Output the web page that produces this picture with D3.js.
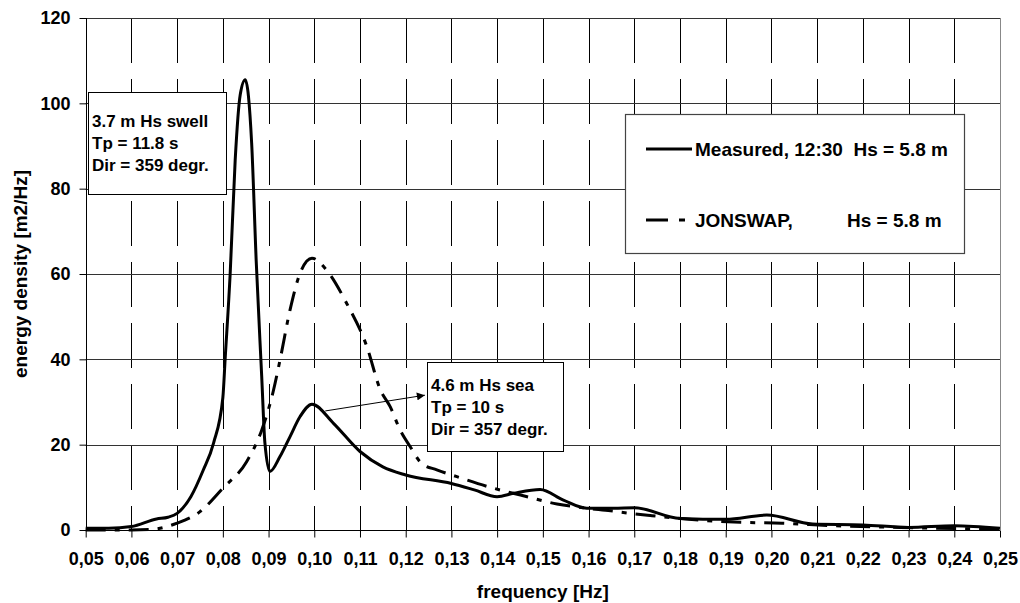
<!DOCTYPE html>
<html><head><meta charset="utf-8">
<script src="https://cdn.jsdelivr.net/npm/d3@7"></script>
<style>
body{margin:0;background:#fff}
svg{display:block}
text{font-family:"Liberation Sans",Arial,sans-serif;font-weight:bold;fill:#000}
</style>
</head><body><svg id="c" width="1020" height="603"></svg>
<script>
// ---- data ----
const measuredFreq = [0.050,0.055,0.060,0.0655,0.068,0.070,0.073,0.0757,0.078,0.080,0.0805,0.0816,0.0827,0.0838,0.0849,0.0863,0.0873,0.0885,0.0892,0.0903,0.0925,0.0947,0.0969,0.0995,0.1042,0.110,0.115,0.120,0.130,0.135,0.140,0.1436,0.1494,0.1545,0.1596,0.1655,0.170,0.180,0.190,0.199,0.209,0.220,0.230,0.240,0.250];
const measuredEnergy = [0.4,0.4,0.8,2.6,3.0,3.9,7.8,14.0,20.5,31.0,40.0,60.0,86.7,102.0,105.5,90.7,63.0,36.0,20.4,13.7,17.2,21.9,26.6,29.5,25.0,18.4,14.8,12.9,10.9,9.4,7.8,8.6,9.5,7.0,5.1,5.1,5.2,2.7,2.5,3.5,1.4,1.2,0.6,1.0,0.4];
const jonswapFreq = [0.050,0.060,0.064,0.070,0.075,0.080,0.0852,0.0885,0.091,0.0925,0.0947,0.0969,0.0995,0.1027,0.1071,0.1115,0.1144,0.1166,0.1188,0.1210,0.1235,0.1268,0.1312,0.1385,0.1451,0.1531,0.1597,0.1648,0.1676,0.1735,0.1844,0.1932,0.2023,0.2136,0.2282,0.250];
const jonswapEnergy = [0,0,0.1,1.6,4.3,9.8,16.0,23.4,32.4,39.8,51.6,60.2,63.7,60.9,53.1,43.0,33.0,28.9,23.4,19.5,15.6,14.1,12.5,10.0,8.2,6.1,5.1,4.5,4.1,3.4,2.3,1.8,1.6,1.0,0.6,0.2];
const xTicks = d3.range(5,26).map(i=>i/100);
const yTicks = [0,20,40,60,80,100,120];
const legendLabels = ["Measured, 12:30  Hs = 5.8 m","JONSWAP,","Hs = 5.8 m"];
const swellNote = ["3.7 m Hs swell","Tp = 11.8 s","Dir = 359 degr."];
const seaNote = ["4.6 m Hs sea","Tp = 10 s","Dir = 357 degr."];
const seaArrowFrom = [0.1024,27.9];
const seaArrowTo = [0.1242,31.6];

// ---- layout ----
const svg = d3.select("#c");
const L=85.7, R=1000, T=18, B=530;
const x = d3.scaleLinear().domain([0.05,0.25]).range([L,R]);
const y = d3.scaleLinear().domain([0,120]).range([B,T]);

svg.append("rect").attr("width",1020).attr("height",603).attr("fill","#fff");

// grid
const g = svg.append("g");
g.selectAll(".vg").data(xTicks.filter(d=>d>0.051 && d<0.249)).join("line")
  .attr("x1",d=>Math.round(x(d))+0.5).attr("x2",d=>Math.round(x(d))+0.5)
  .attr("y1",T).attr("y2",B)
  .attr("stroke","#000").attr("stroke-width",1).attr("stroke-dasharray","45,16");
g.selectAll(".hg").data(yTicks.filter(d=>d>0)).join("line")
  .attr("x1",L).attr("x2",R)
  .attr("y1",d=>Math.round(y(d))+0.5).attr("y2",d=>Math.round(y(d))+0.5)
  .attr("stroke","#333").attr("stroke-width",1);
// right border
g.append("line").attr("x1",Math.round(R)+0.5).attr("x2",Math.round(R)+0.5).attr("y1",T).attr("y2",B)
  .attr("stroke","#888").attr("stroke-width",1);

// axes
const xAxis = d3.axisBottom(x).tickValues(xTicks).tickSize(7).tickPadding(15)
  .tickFormat(d=>d3.format(".2f")(d).replace(".",","));
const ax = svg.append("g").attr("transform",`translate(0,${Math.round(B)+0.5})`).call(xAxis);
ax.select(".domain").attr("stroke","#000").attr("d",`M${L},0H${R}`);
ax.selectAll(".tick line").attr("stroke","#000");
ax.selectAll("text").attr("font-size",18).attr("font-family",null);

const yAxis = d3.axisLeft(y).tickValues(yTicks).tickSize(7).tickPadding(9);
const ay = svg.append("g").attr("transform",`translate(${Math.round(L)+0.5},0)`).call(yAxis);
ay.select(".domain").attr("stroke","#000").attr("d",`M0,${T}V${B}`);
ay.selectAll(".tick line").attr("stroke","#000");
ay.selectAll("text").attr("font-size",18).attr("font-family",null);

// axis titles
svg.append("text").attr("x",(L+R)/2).attr("y",598).attr("text-anchor","middle")
  .attr("font-size",19).text("frequency [Hz]");
svg.append("text").attr("transform",`translate(27,${(T+B)/2}) rotate(-90)`)
  .attr("text-anchor","middle").attr("font-size",19).text("energy density [m2/Hz]");

// lines
const line = d3.line().x(d=>x(d[0])).y(d=>y(d[1])).curve(d3.curveMonotoneX);
const mData = measuredFreq.map((f,i)=>[f,measuredEnergy[i]]);
const jData = jonswapFreq.map((f,i)=>[f,jonswapEnergy[i]]);
svg.append("path").attr("d",line(jData)).attr("fill","none").attr("stroke","#000")
  .attr("stroke-width",3).attr("stroke-dasharray","20,9,5,9");
svg.append("path").attr("d",line(mData)).attr("fill","none").attr("stroke","#000")
  .attr("stroke-width",3).attr("stroke-linejoin","round");

// annotation boxes
function note(lines,bx,by,bw,bh,fs,firstBase,step){
  svg.append("rect").attr("x",bx+0.5).attr("y",by+0.5).attr("width",bw).attr("height",bh)
    .attr("fill","#fff").attr("stroke","#000").attr("stroke-width",1);
  lines.forEach((t,i)=>svg.append("text").attr("x",bx+4).attr("y",by+firstBase+i*step)
    .attr("font-size",fs).style("white-space","pre").text(t));
}
note(swellNote,88,92,138,102,17,35,22);
note(seaNote,427,362,136,89,17,29,22);

// arrow
const defs = svg.append("defs");
defs.append("marker").attr("id","ah").attr("viewBox","0 0 10 10").attr("refX",10).attr("refY",5)
  .attr("markerWidth",10).attr("markerHeight",8).attr("markerUnits","userSpaceOnUse").attr("orient","auto")
  .append("path").attr("d","M0,0L10,5L0,10Z").attr("fill","#000");
svg.append("line").attr("x1",x(seaArrowFrom[0])).attr("y1",y(seaArrowFrom[1]))
  .attr("x2",x(seaArrowTo[0])).attr("y2",y(seaArrowTo[1]))
  .attr("stroke","#000").attr("stroke-width",1).attr("marker-end","url(#ah)");

// legend
svg.append("rect").attr("x",625.5).attr("y",114.5).attr("width",339).attr("height",139)
  .attr("fill","#fff").attr("stroke","#444").attr("stroke-width",1.2);
svg.append("line").attr("x1",646).attr("x2",692).attr("y1",149).attr("y2",149)
  .attr("stroke","#000").attr("stroke-width",3);
svg.append("text").attr("x",695).attr("y",156).attr("font-size",19).style("white-space","pre").text(legendLabels[0]);
svg.append("line").attr("x1",646).attr("x2",686).attr("y1",220).attr("y2",220)
  .attr("stroke","#000").attr("stroke-width",3).attr("stroke-dasharray","22,11,6,11");
svg.append("text").attr("x",695).attr("y",227).attr("font-size",19).text(legendLabels[1]);
svg.append("text").attr("x",847).attr("y",227).attr("font-size",19).text(legendLabels[2]);
</script>
</body></html>
